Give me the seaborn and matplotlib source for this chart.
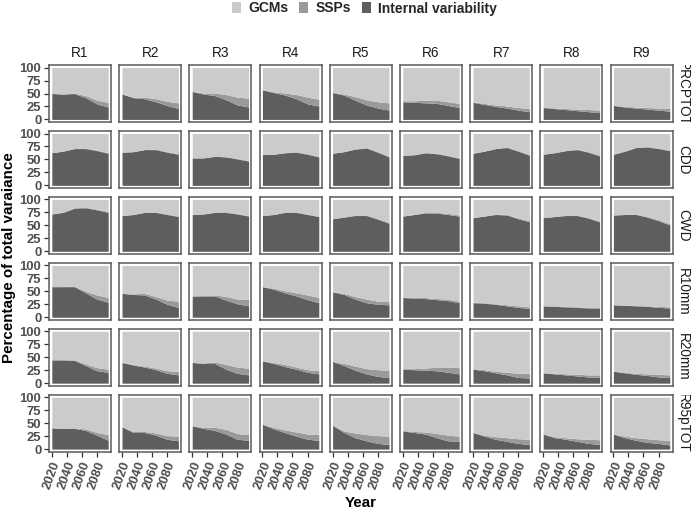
import matplotlib
matplotlib.use("Agg")
import matplotlib.pyplot as plt
import numpy as np
import pandas as pd
import seaborn as sns
from matplotlib.patches import Patch
from matplotlib.transforms import Bbox, TransformedBbox

# ---------------- data ----------------
years = [2020, 2035, 2050, 2065, 2080, 2095]
regions = ["R1", "R2", "R3", "R4", "R5", "R6", "R7", "R8", "R9"]
metrics = ["PRCPTOT", "CDD", "CWD", "R10mm", "R20mm", "R95pTOT"]
components = ["GCMs", "SSPs", "Internal variability"]
x_ticks = [2020, 2040, 2060, 2080]
y_ticks = [0, 25, 50, 75, 100]

# internal variability share (%), one row per region R1..R9
iv_prcptot = [[50, 49, 50, 42, 30, 24], [49, 42, 40, 34, 27, 21], [54, 49, 46, 38, 28, 24],
              [57, 52, 47, 40, 30, 26], [52, 47, 37, 28, 22, 18], [34, 33, 32, 31, 27, 23],
              [33, 29, 25, 22, 18, 15], [23, 21, 19, 17, 15, 13], [27, 24, 22, 20, 18, 16]]
ssp_prcptot = [[0, 0, 1, 4, 7, 9], [0, 1, 3, 6, 8, 11], [0, 2, 5, 10, 15, 17],
               [0, 1, 4, 8, 13, 13], [0, 2, 7, 10, 12, 14], [2, 3, 5, 6, 7, 8],
               [1, 2, 3, 4, 5, 6], [1, 1, 2, 3, 4, 5], [0, 1, 2, 3, 4, 5]]

iv_cdd = [[63, 66, 71, 71, 67, 62], [64, 65, 69, 69, 64, 60], [53, 53, 56, 55, 51, 47],
          [60, 60, 63, 64, 60, 55], [62, 65, 70, 72, 64, 55], [58, 59, 63, 61, 57, 52],
          [62, 66, 71, 73, 66, 58], [60, 63, 67, 69, 64, 57], [60, 66, 73, 74, 71, 67]]
ssp_cdd = [[0, 0, 0, 1, 1, 1], [0, 0, 0, 1, 1, 1], [0, 0, 0, 0, 1, 1],
           [0, 0, 0, 1, 1, 1], [0, 0, 0, 1, 1, 1], [0, 0, 0, 1, 1, 1],
           [0, 0, 0, 1, 1, 2], [0, 0, 0, 1, 1, 1], [0, 0, 0, 1, 1, 1]]

iv_cwd = [[72, 75, 83, 84, 80, 75], [69, 71, 75, 75, 71, 67], [71, 72, 75, 75, 72, 68],
          [69, 71, 75, 75, 71, 67], [63, 66, 69, 69, 62, 54], [68, 71, 74, 74, 71, 68],
          [65, 68, 71, 70, 63, 57], [65, 67, 69, 69, 64, 57], [70, 71, 71, 66, 59, 51]]
ssp_cwd = [[0, 1, 1, 1, 1, 2], [0, 0, 1, 1, 1, 1], [0, 0, 1, 1, 1, 1],
           [0, 0, 1, 1, 1, 1], [0, 0, 1, 1, 1, 2], [0, 0, 1, 1, 2, 2],
           [0, 0, 1, 1, 1, 2], [0, 0, 1, 1, 1, 1], [0, 0, 1, 1, 2, 2]]

iv_r10mm = [[59, 59, 59, 47, 35, 29], [46, 44, 43, 35, 25, 19], [41, 41, 41, 33, 26, 22],
            [59, 54, 47, 41, 34, 28], [49, 44, 35, 28, 25, 24], [38, 37, 36, 34, 32, 28],
            [28, 27, 25, 22, 19, 17], [22, 21, 20, 19, 18, 17], [24, 23, 22, 21, 19, 18]]
ssp_r10mm = [[0, 0, 1, 3, 8, 9], [0, 1, 3, 5, 8, 12], [0, 1, 2, 7, 9, 13],
             [0, 2, 4, 6, 9, 10], [0, 2, 5, 7, 6, 6], [1, 1, 2, 2, 3, 3],
             [1, 1, 1, 2, 3, 3], [0, 1, 1, 1, 1, 2], [0, 0, 1, 1, 2, 2]]

iv_r20mm = [[45, 45, 44, 34, 24, 21], [40, 35, 31, 26, 19, 16], [40, 38, 38, 27, 19, 16],
            [43, 38, 32, 27, 21, 18], [42, 34, 25, 18, 13, 11], [27, 26, 25, 24, 21, 18],
            [27, 24, 20, 16, 11, 10], [20, 18, 16, 14, 12, 11], [23, 20, 17, 15, 12, 11]]
ssp_r20mm = [[0, 0, 1, 3, 6, 6], [0, 1, 2, 3, 5, 7], [0, 1, 3, 9, 12, 13],
             [0, 2, 4, 4, 5, 6], [0, 4, 8, 10, 13, 14], [1, 2, 4, 7, 10, 12],
             [1, 2, 3, 5, 8, 9], [0, 1, 2, 3, 4, 5], [0, 1, 2, 3, 5, 5]]

iv_r95ptot = [[41, 40, 40, 36, 27, 17], [43, 32, 32, 27, 19, 16], [45, 40, 36, 29, 19, 17],
              [48, 39, 32, 25, 19, 17], [46, 32, 22, 16, 11, 9], [35, 32, 29, 22, 16, 15],
              [32, 25, 19, 15, 11, 9], [29, 22, 19, 15, 11, 9], [29, 22, 17, 13, 11, 8]]
ssp_r95ptot = [[0, 0, 1, 3, 5, 11], [0, 2, 2, 4, 7, 9], [0, 2, 6, 9, 11, 11],
               [0, 3, 5, 8, 10, 11], [0, 3, 9, 12, 15, 16], [1, 2, 4, 8, 11, 10],
               [0, 2, 5, 7, 9, 10], [0, 2, 3, 5, 8, 9], [0, 3, 5, 7, 7, 9]]

iv_by_metric = {"PRCPTOT": iv_prcptot, "CDD": iv_cdd, "CWD": iv_cwd,
                "R10mm": iv_r10mm, "R20mm": iv_r20mm, "R95pTOT": iv_r95ptot}
ssp_by_metric = {"PRCPTOT": ssp_prcptot, "CDD": ssp_cdd, "CWD": ssp_cwd,
                 "R10mm": ssp_r10mm, "R20mm": ssp_r20mm, "R95pTOT": ssp_r95ptot}

records = []
for m in metrics:
    for ri, r in enumerate(regions):
        for k, y in enumerate(years):
            iv = iv_by_metric[m][ri][k]
            ssp = ssp_by_metric[m][ri][k]
            records.append({"metric": m, "region": r, "year": y,
                            "iv": iv, "ssp": ssp, "gcm": 100 - iv - ssp})
df = pd.DataFrame(records)

# ---------------- style ----------------
C_GCM = "#cbcbcb"
C_SSP = "#9a9a9a"
C_IV = "#5e5e5e"

sns.set_theme(style="white")
plt.rcParams["font.family"] = ["Liberation Sans", "DejaVu Sans"]

g = sns.FacetGrid(df, row="metric", col="region", row_order=metrics, col_order=regions,
                  margin_titles=True, height=0.8, aspect=1.09, despine=False,
                  sharex=True, sharey=True)


def draw_stack(data, color=None, label=None, **kws):
    ax = plt.gca()
    d = data.sort_values("year")
    ax.stackplot(d["year"], d["iv"], d["ssp"], d["gcm"],
                 colors=[C_IV, C_SSP, C_GCM], linewidth=0)


g.map_dataframe(draw_stack)
g.set_titles(row_template="", col_template="")
g.set_axis_labels("", "")

fig = g.figure
fig.set_size_inches(6.92, 5.11)
fig.patch.set_facecolor("white")
W, H = 692.0, 511.0
fig.subplots_adjust(left=49 / W, right=672.6 / W, top=1 - 65 / H, bottom=1 - 451.7 / H,
                    wspace=0.132, hspace=0.156)

nrow, ncol = g.axes.shape
for i in range(nrow):
    for j in range(ncol):
        ax = g.axes[i, j]
        ax.set_facecolor("white")
        ax.set_xlim(2016.25, 2098.75)
        ax.set_ylim(-5, 105)
        ax.set_xticks(x_ticks)
        ax.set_xticklabels([str(t) for t in x_ticks], fontweight="bold", rotation=70)
        ax.set_yticks(y_ticks)
        ax.set_yticklabels([str(t) for t in y_ticks], fontweight="bold")
        ax.tick_params(axis="both", labelsize=9.4, labelcolor="#4d4d4d", color="#333333",
                       length=3.5, width=0.9, pad=2.0)
        if j == 0:
            ax.tick_params(axis="y", left=True, labelleft=True)
        else:
            ax.tick_params(axis="y", left=False, labelleft=False)
        if i == nrow - 1:
            ax.tick_params(axis="x", bottom=True, labelbottom=True)
        else:
            ax.tick_params(axis="x", bottom=False, labelbottom=False)
        for sp in ax.spines.values():
            sp.set_visible(True)
            sp.set_color("#5a5a5a")
            sp.set_linewidth(1.1)
        ax.set_xlabel("")
        ax.set_ylabel("")
        if i == 0:
            ax.set_title(regions[j], fontsize=9.8, color="#1a1a1a", pad=5.5)
        else:
            ax.set_title("")
        if j == ncol - 1:
            t = ax.text(1.055, 0.5, metrics[i], transform=ax.transAxes, rotation=270,
                        ha="left", va="center", fontsize=9.8, color="#1a1a1a")
            t.set_clip_box(TransformedBbox(Bbox([[1.0, 0.0], [2.0, 1.0]]), ax.transAxes))
            t.set_clip_on(True)

fig.text(9.5 / W, 1 - 258 / H, "Percentage of total varaiance", rotation=90,
         ha="center", va="center", fontsize=10.9, fontweight="bold", color="black")
fig.text(360.8 / W, 1 - 503 / H, "Year", ha="center", va="center",
         fontsize=10.9, fontweight="bold", color="black")

handles = [Patch(facecolor=C_GCM, edgecolor="none", label=components[0]),
           Patch(facecolor=C_SSP, edgecolor="none", label=components[1]),
           Patch(facecolor=C_IV, edgecolor="none", label=components[2])]
fig.legend(handles=handles, loc="center", bbox_to_anchor=(364.5 / W, 1 - 8.5 / H),
           ncol=3, frameon=False, handlelength=0.65, handleheight=0.8,
           handletextpad=0.55, columnspacing=0.75, borderpad=0.0,
           prop={"weight": "bold", "size": 10})

fig.savefig("out.png", dpi=100, facecolor="white")
